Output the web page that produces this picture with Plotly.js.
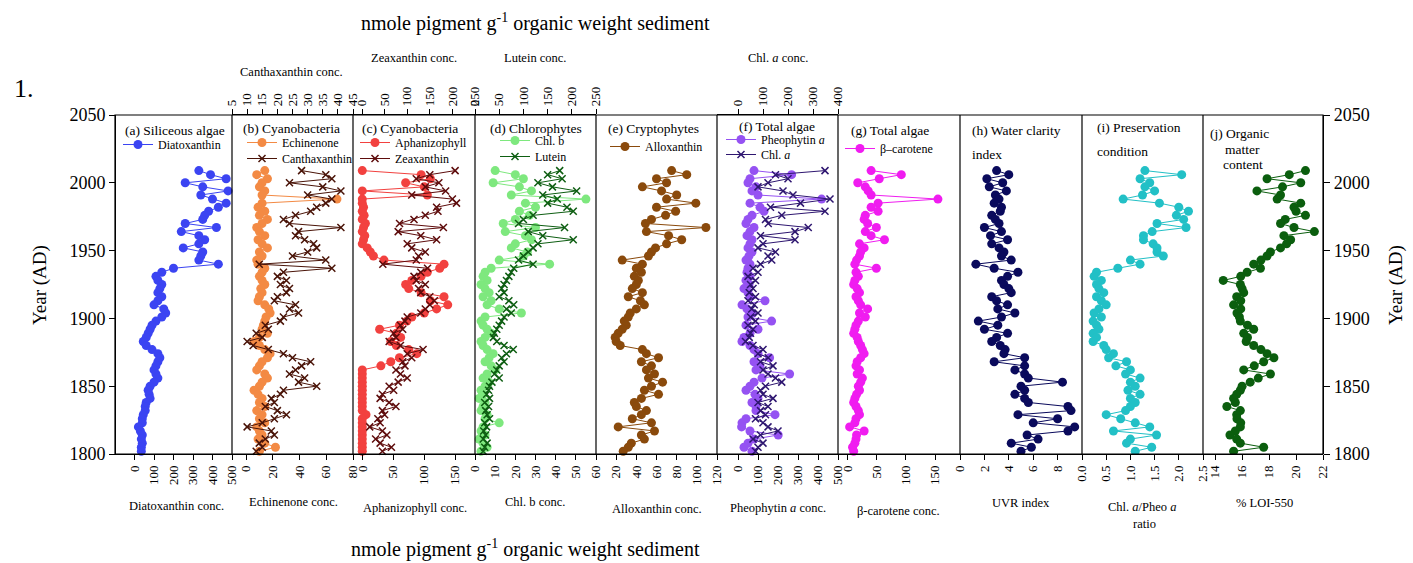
<!DOCTYPE html>
<html><head><meta charset="utf-8">
<script src="https://cdn.plot.ly/plotly-3.0.1.min.js"></script>
<style>html,body{margin:0;padding:0;background:#fff}#chart{width:1413px;height:563px}</style>
</head><body><div id="chart"></div>
<script>
// ---------- DATA (sample years, AD) ----------
const years = [2009,2006,2003,2000,1997,1994,1991,1988,1985,1982,
1979,1976,1973,1970,1967,1964,1961,1958,1955,1952,
1949,1946,1943,1940,1937,1934,1931,1928,1925,1922,
1919,1916,1913,1910,1907,1904,1901,1898,1895,1892,
1889,1886,1883,1880,1877,1874,1871,1868,1865,1862,
1859,1856,1853,1850,1847,1844,1841,1838,1835,1832,
1829,1826,1823,1820,1817,1814,1811,1808,1805,1802];

const diatoxanthin = [330,390,470,260,350,480,340,400,470,430, 380,360,350,260,420,240,330,360,330,250, 350,340,330,430,200,140,110,120,140,130, 120,140,120,100,150,160,140,110,90,80, 70,60,45,60,90,120,130,120,110,100, 110,120,100,80,70,75,80,60,55,55, 45,40,40,20,30,40,35,40,35,35];
const echinenone = [14,8,16,12,10,14,12,68,12,9, 14,10,16,12,8,10,14,9,12,16, 10,12,8,9,14,12,10,12,14,11, 12,10,9,14,17,18,15,14,13,12, 16,10,6,10,14,18,16,12,10,8, 14,16,12,10,6,9,12,10,14,8, 12,10,14,8,10,12,9,14,22,10];
const canthaxanthin = [28,36,38,24,35,41,30,38,36,33, 31,26,22,24,41,27,26,29,32,33, 30,25,36,14,38,22,20,23,21,24, 23,20,19,26,24,27,22,21,16,17, 13,15,10,12,17,22,25,31,28,26, 24,29,27,33,22,21,18,19,16,20, 23,19,15,10,18,19,16,14,15,13];
const aphanizophyll = [0,95,110,70,100,0,105,0,0,2, 0,3,0,5,2,0,4,2,0,8, 13,18,35,132,125,105,95,80,70,75, 95,132,110,138,120,100,80,72,60,28, 55,62,46,55,75,88,60,46,30,0, 0,0,0,0,0,0,0,0,0,0, 6,0,0,0,0,0,0,0,0,0];
const zeaxanthin = [206,150,120,170,140,185,110,200,209,165, 168,140,115,83,180,80,130,165,100,110, 140,125,120,46,145,130,115,120,140,125, 130,150,160,150,140,130,100,95,85,90, 70,75,60,85,135,100,110,90,95,75, 85,100,80,60,70,45,40,60,75,45, 50,35,40,17,45,55,30,40,65,45];
const chlB = [10,20,24,9,22,28,18,55,25,30, 22,27,20,14,30,15,25,28,20,18, 26,24,12,37,8,5,4,6,3,5, 7,4,8,6,12,23,5,3,4,6, 8,5,3,4,6,9,7,5,8,10, 6,4,7,5,3,4,2,5,4,3, 6,5,12,4,3,5,2,4,6,3];
const lutein = [175,150,180,130,160,210,140,170,150,190, 203,120,100,90,185,110,140,203,130,120, 110,100,90,120,80,75,70,65,60,55, 60,50,70,80,65,75,60,55,50,45, 40,38,45,60,79,65,55,60,50,45, 40,50,35,30,28,24,30,20,28,22, 25,30,20,24,18,22,17,25,20,17];
const alloxanthin = [75,90,60,70,46,65,80,70,99,60, 79,69,55,49,109,50,72,85,70,59, 55,52,26,46,40,45,38,42,40,36, 46,32,44,48,40,34,32,28,30,26, 22,19,20,24,46,50,62,45,55,50, 58,52,66,55,48,62,45,38,40,50, 45,36,55,22,58,45,48,35,32,27];
const pheophytinA = [80,268,60,50,90,70,100,418,60,110, 130,70,50,40,80,60,45,70,60,50, 70,55,40,60,50,45,60,40,55,30, 50,60,135,20,45,70,50,168,40,100, 60,30,20,60,80,100,158,80,110,90, 258,120,80,60,40,85,100,70,90,90, 185,40,20,18,60,201,80,50,30,70];
const chlA = [348,150,200,120,80,180,220,368,250,130, 348,175,110,121,281,228,90,228,100,80, 150,120,135,90,60,80,40,70,50,60, 45,70,40,65,55,80,50,70,40,60, 50,45,30,60,100,80,121,90,140,100, 120,150,175,110,90,100,140,80,120,90, 110,70,100,120,160,90,60,100,80,70];
const betaCarotene = [40,92,54,17,30,35,40,155,52,40, 52,30,28,34,49,30,40,63,20,28, 22,20,15,12,49,14,18,12,10,16, 20,14,18,22,34,20,30,18,14,12, 10,16,18,22,25,28,22,16,14,20, 16,25,22,18,20,15,12,10,14,18, 20,14,12,3,28,15,14,12,8,10];
const uvrIndex = [3.0,4.0,2.2,3.5,2.4,3.8,2.9,3.2,2.8,3.4, 3.3,2.6,2.9,3.2,2.0,3.4,2.5,3.9,2.6,3.2, 3.6,3.4,4.2,1.3,2.8,4.75,3.9,3.4,3.6,4.0, 4.2,2.6,3.0,3.9,3.1,4.5,3.4,1.5,3.1,2.0, 3.9,3.0,2.6,3.3,3.7,3.6,5.3,2.8,5.3, 4.5,5.3,5.6,8.4,5.0,5.3,4.5,5.3,5.6,8.85, 9.1,4.75,8.0,6.0,9.4,8.85,5.5,6.4,4.2,5.85,5.0];
const chlPheoRatio = [1.3,2.06,1.2,1.4,1.3,1.5,1.25,0.85,1.6,2.0, 2.2,1.95,2.1,1.55,2.15,1.45,1.27,1.27,1.47,1.55, 1.55,1.68,1.0,1.2,0.74,0.3,0.25,0.4,0.3,0.35, 0.45,0.3,0.4,0.5,0.35,0.25,0.4,0.23,0.3,0.35, 0.23,0.3,0.23,0.45,0.5,0.65,0.55,0.92,0.7,1.0, 0.9,1.2,1.0,1.1,0.95,1.2,1.0,1.1,1.0,0.9, 0.5,0.8,1.1,1.4,0.65,1.54,1.0,0.92,1.44,1.1];
const loi550 = [20.7,19.5,17.85,20.35,19.0,17.1,18.85,18.6,20.35,19.85, 20.0,20.7,19.2,18.85,19.85,21.36,19.1,19.6,19.3,18.85, 18.1,17.85,17.4,16.86,17.36,16.37,15.9,14.6,15.87,16.0, 16.12,15.6,15.9,15.37,15.9,15.62,15.8,15.87,16.4,16.86, 16.12,16.4,16.3,16.86,17.4,17.85,18.36,17.6,16.9,16.12, 18.1,17.2,16.6,16.0,15.87,15.6,15.37,15.5,14.87,15.87, 15.6,15.62,15.9,15.87,15.5,15.1,15.6,15.87,17.6,15.37];

const yearTicks = [1800,1850,1900,1950,2000,2050];

// ---------- LAYOUT HELPERS ----------
const W = 1413, H = 563;
const L = 115, R = 1323, T = 115, B = 454;
const px = x => (x - L) / (R - L);
const py = y => (B - y) / (B - T);
const bounds = [115,232,353,475,596,717,838,960,1082,1203,1323];
const FONT = 'Liberation Serif, Times New Roman, serif';

function circ(name, x, col, xa, leg){
  return {type:'scatter', mode:'lines+markers', name, x, y:years, xaxis:xa, yaxis:'y', legend:leg,
    line:{color:col, width:1}, marker:{symbol:'circle', size:9, color:col, line:{width:0}}, cliponaxis:false};
}
function cross(name, x, col, xa, leg){
  return {type:'scatter', mode:'lines+markers', name, x, y:years, xaxis:xa, yaxis:'y', legend:leg,
    line:{color:col, width:1}, marker:{symbol:'x-thin', size:7, color:col, line:{width:1.5, color:col}}, cliponaxis:false};
}

const traces = [
  circ('Diatoxanthin', diatoxanthin, '#3b44f2', 'x', 'legend'),
  circ('Echinenone', echinenone, '#f38a44', 'x2', 'legend2'),
  cross('Canthaxanthin', canthaxanthin, '#4a1408', 'x11', 'legend3'),
  circ('Aphanizophyll', aphanizophyll, '#f2413f', 'x3', 'legend4'),
  cross('Zeaxanthin', zeaxanthin, '#5e0c0c', 'x12', 'legend5'),
  circ('Chl. b', chlB, '#7ee87e', 'x4', 'legend6'),
  cross('Lutein', lutein, '#0e5e12', 'x13', 'legend7'),
  circ('Alloxanthin', alloxanthin, '#8a4a0c', 'x5', 'legend8'),
  circ('Pheophytin <i>a</i>', pheophytinA, '#9552f2', 'x6', 'legend9'),
  cross('Chl. <i>a</i>', chlA, '#2e1670', 'x14', 'legend10'),
  circ('\u03b2\u2013carotene', betaCarotene, '#f01cf0', 'x7', 'legend11'),
  {type:'scatter', mode:'lines+markers', x:uvrIndex, y:years, xaxis:'x8', yaxis:'y', showlegend:false,
    line:{color:'#0a0a5c', width:1}, marker:{size:9, color:'#0a0a5c'}},
  {type:'scatter', mode:'lines+markers', x:chlPheoRatio, y:years, xaxis:'x9', yaxis:'y', showlegend:false,
    line:{color:'#22c0c6', width:1}, marker:{size:9, color:'#22c0c6'}},
  {type:'scatter', mode:'lines+markers', x:loi550, y:years, xaxis:'x10', yaxis:'y', showlegend:false,
    line:{color:'#0b5e0e', width:1}, marker:{size:9, color:'#0b5e0e'}},
  // empty trace so the right-hand year axis is drawn
  {type:'scatter', mode:'markers', x:[], y:[], xaxis:'x10', yaxis:'y2', showlegend:false, hoverinfo:'skip'}
];

const axBase = {showgrid:false, zeroline:false, showline:true, linecolor:'#000', linewidth:1.2,
  ticks:'outside', ticklen:5, tickwidth:1, tickcolor:'#000', tickangle:-90,
  tickfont:{family:FONT, size:13, color:'#000'}, fixedrange:true, anchor:'y'};

const bottomAxes = [
  {range:[-100,500], tickvals:[0,100,200,300,400,500]},
  {range:[-10.5,80], tickvals:[0,20,40,60,80]},
  {range:[-15,182], tickvals:[0,50,100,150]},
  {range:[0,60], tickvals:[0,10,20,30,40,50,60]},
  {range:[0,120], tickvals:[20,40,60,80,100,120]},
  {range:[-105,500], tickvals:[0,100,200,300,400,500]},
  {range:[-17,193], tickvals:[0,50,100,150]},
  {range:[0,10], tickvals:[0,2,4,6,8]},
  {range:[0,2.5], tickvals:[0,0.5,1,1.5,2,2.5], tickformat:'.1f'},
  {range:[13.1,22], tickvals:[14,16,18,20,22]}
];

const yBase = {range:[1800,2050], tickvals:yearTicks, showgrid:false, zeroline:false, showline:true,
    linecolor:'#000', linewidth:1.2, ticks:'outside', ticklen:6, tickcolor:'#000',
    tickfont:{family:FONT, size:18, color:'#000'}, fixedrange:true};

const layout = {
  width:W, height:H, paper_bgcolor:'#fff', plot_bgcolor:'rgba(0,0,0,0)',
  margin:{l:L, r:W-R, t:T, b:H-B, pad:0},
  font:{family:FONT, color:'#000'},
  yaxis:Object.assign({}, yBase, {anchor:'free', position:0}),
  yaxis2:Object.assign({}, yBase, {overlaying:'y', side:'right', anchor:'free', position:1}),
  shapes:[], annotations:[]
};

bottomAxes.forEach((a,i)=>{
  const key = i===0 ? 'xaxis' : 'xaxis'+(i+1);
  layout[key] = Object.assign({}, axBase, a, {domain:[px(bounds[i]), px(bounds[i+1])]});
});
const topAxes = [
  {n:11, base:'x2', p:1, range:[5,45], tickvals:[5,10,15,20,25,30,35,40,45]},
  {n:12, base:'x3', p:2, range:[-20,250], tickvals:[0,50,100,150,200,250]},
  {n:13, base:'x4', p:3, range:[0,250], tickvals:[0,50,100,150,200,250]},
  {n:14, base:'x6', p:5, range:[-84,400], tickvals:[0,100,200,300,400]}
];
topAxes.forEach(a=>{
  layout['xaxis'+a.n] = Object.assign({}, axBase, {overlaying:a.base, side:'top', range:a.range, tickvals:a.tickvals,
    domain:[px(bounds[a.p]), px(bounds[a.p+1])]});
});

// frame and panel dividers
layout.shapes.push({type:'rect', xref:'paper', yref:'paper', x0:0, x1:1, y0:0, y1:1, line:{color:'#000', width:1.2}});
for (let i=1;i<bounds.length-1;i++){
  layout.shapes.push({type:'line', xref:'paper', yref:'paper', x0:px(bounds[i]), x1:px(bounds[i]), y0:0, y1:1, line:{color:'#000', width:1.2}});
}

// one legend per entry, placed inside its panel (pixel x of legend box, pixel y of entry centre)
const legPos = [
  ['legend', 118, 145], ['legend2', 242, 143], ['legend3', 242, 159],
  ['legend4', 355, 143], ['legend5', 355, 159], ['legend6', 495, 141], ['legend7', 495, 157],
  ['legend8', 605, 147], ['legend9', 721, 140], ['legend10', 721, 155], ['legend11', 840, 149]
];
legPos.forEach(([k,x,y])=>{
  layout[k] = {x:px(x), y:py(y-15), xref:'paper', yref:'paper', xanchor:'left', yanchor:'top',
    bgcolor:'rgba(0,0,0,0)', borderwidth:0, itemwidth:30, tracegroupgap:0,
    font:{family:FONT, size:12, color:'#000'}};
});

function ann(text, x, y, size, opts){
  layout.annotations.push(Object.assign({text, x:px(x), y:py(y), xref:'paper', yref:'paper',
    showarrow:false, xanchor:'left', yanchor:'middle', font:{family:FONT, size:size, color:'#000'}}, opts||{}));
}
// panel titles
ann('(a) Siliceous algae', 123, 130, 13.5);
ann('(b) Cyanobacteria', 241, 128, 13.5);
ann('(c) Cyanobacteria', 360, 128, 13.5);
ann('(d) Chlorophytes', 488, 128, 13.5);
ann('(e) Cryptophytes', 606, 128, 13.5);
ann('(f) Total algae', 737, 126, 13.5);
ann('(g) Total algae', 849, 130, 13.5);
ann('(h) Water clarity', 970, 130, 13.5);
ann('index', 970, 154, 13.5);
ann('(i) Preservation', 1095, 127, 13.5);
ann('condition', 1095, 151, 13.5);
ann('(j) Organic', 1208, 133, 13.5);
ann('matter', 1223, 149, 13.5);
ann('content', 1221, 164, 13.5);

// bottom axis titles
ann('Diatoxanthin conc.', 176, 506, 12.5, {xanchor:'center'});
ann('Echinenone conc.', 293, 502, 12.5, {xanchor:'center'});
ann('Aphanizophyll conc.', 415, 508, 12.5, {xanchor:'center'});
ann('Chl. b conc.', 535, 502, 12.5, {xanchor:'center'});
ann('Alloxanthin conc.', 657, 509, 12.5, {xanchor:'center'});
ann('Pheophytin <i>a</i> conc.', 778, 508, 12.5, {xanchor:'center'});
ann('\u03b2-carotene conc.', 898, 511, 12.5, {xanchor:'center'});
ann('UVR index', 1021, 503, 12.5, {xanchor:'center'});
ann('Chl. <i>a</i>/Pheo <i>a</i>', 1142, 507, 12.5, {xanchor:'center'});
ann('ratio', 1144, 524, 12.5, {xanchor:'center'});
ann('% LOI-550', 1264, 503, 12.5, {xanchor:'center'});
// top axis titles
ann('Canthaxanthin conc.', 291, 72, 12.5, {xanchor:'center'});
ann('Zeaxanthin conc.', 414, 58, 12.5, {xanchor:'center'});
ann('Lutein conc.', 535, 58, 12.5, {xanchor:'center'});
ann('Chl. <i>a</i> conc.', 778, 58, 12.5, {xanchor:'center'});
// main titles
ann('nmole pigment g<sup>-1</sup> organic weight sediment', 535, 23, 20, {xanchor:'center'});
ann('nmole pigment g<sup>-1</sup> organic weight sediment', 525, 548, 20, {xanchor:'center'});
ann('1.', 12, 88, 26);
ann('Year (AD)', 40, 285, 19, {xanchor:'center', textangle:-90});
ann('Year (AD)', 1396, 285, 19, {xanchor:'center', textangle:-90});

Plotly.newPlot('chart', traces, layout, {displayModeBar:false, staticPlot:true});
</script>
</body></html>
